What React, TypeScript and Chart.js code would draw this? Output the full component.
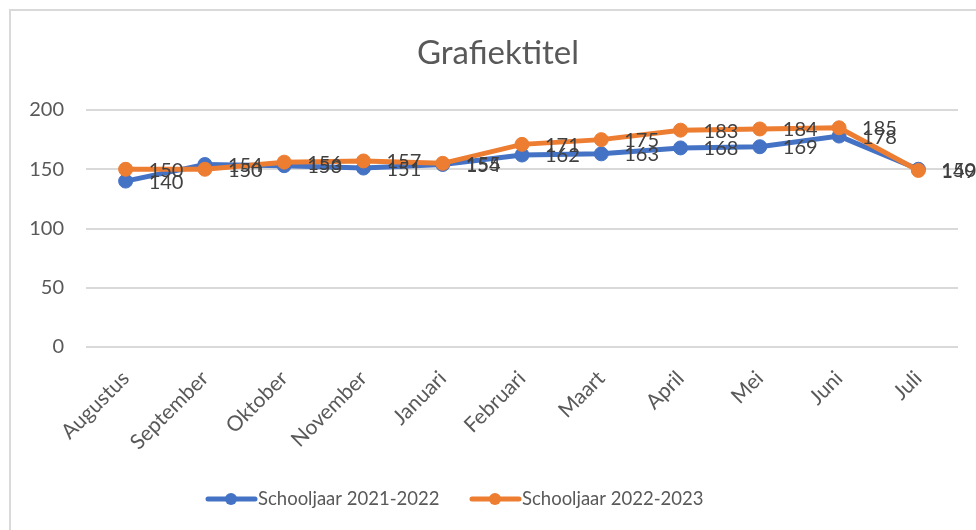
import React, { useEffect, useRef } from "react";
import { Chart, registerables } from "chart.js";

Chart.register(...registerables);

const categories = ["Augustus", "September", "Oktober", "November", "Januari", "Februari", "Maart", "April", "Mei", "Juni", "Juli"];
const series2122 = [140, 154, 153, 151, 154, 162, 163, 168, 169, 178, 150];
const series2223 = [150, 150, 156, 157, 155, 171, 175, 183, 184, 185, 149];
const seriesNames = ["Schooljaar 2021-2022", "Schooljaar 2022-2023"];
const titleText = "Grafiektitel";

const BLUE = "#4472C4";
const ORANGE = "#ED7D31";
const TEXT = "#595959";
const GRID = "#D9D9D9";
const FONT = "Lato, 'Liberation Sans', sans-serif";

const titlePlugin = {
  id: "customTitle",
  afterDraw(chart: any) {
    const ctx = chart.ctx;
    ctx.save();
    ctx.font = `33px ${FONT}`;
    ctx.fillStyle = TEXT;
    ctx.textAlign = "center";
    ctx.textBaseline = "alphabetic";
    ctx.fillText(titleText, 498, 64);
    ctx.restore();
  },
};

const dataLabelPlugin = {
  id: "dataLabels",
  afterDatasetsDraw(chart: any) {
    const ctx = chart.ctx;
    ctx.save();
    ctx.font = `20px ${FONT}`;
    ctx.fillStyle = "#404040";
    ctx.textAlign = "left";
    ctx.textBaseline = "middle";
    chart.data.datasets.forEach((ds: any, di: number) => {
      const meta = chart.getDatasetMeta(di);
      meta.data.forEach((pt: any, i: number) => {
        ctx.fillText(String(ds.data[i]), pt.x + 23, pt.y + 1);
      });
    });
    ctx.restore();
  },
};

const legendPlugin = {
  id: "customLegend",
  afterDraw(chart: any) {
    const ctx = chart.ctx;
    const items = [
      { x: 208, color: BLUE, text: seriesNames[0] },
      { x: 472, color: ORANGE, text: seriesNames[1] },
    ];
    const y = 499;
    ctx.save();
    ctx.font = `18.5px ${FONT}`;
    ctx.textBaseline = "middle";
    ctx.textAlign = "left";
    items.forEach((it) => {
      ctx.strokeStyle = it.color;
      ctx.lineWidth = 5;
      ctx.lineCap = "round";
      ctx.beginPath();
      ctx.moveTo(it.x, y);
      ctx.lineTo(it.x + 47, y);
      ctx.stroke();
      ctx.fillStyle = it.color;
      ctx.beginPath();
      ctx.arc(it.x + 23, y, 6, 0, Math.PI * 2);
      ctx.fill();
      ctx.fillStyle = TEXT;
      ctx.fillText(it.text, it.x + 50, y);
    });
    ctx.restore();
  },
};

export default function App() {
  const ref = useRef<HTMLCanvasElement | null>(null);
  useEffect(() => {
    if (!ref.current) return;
    const chart = new Chart(ref.current, {
      type: "line",
      data: {
        labels: categories,
        datasets: [
          {
            label: seriesNames[0],
            data: series2122,
            borderColor: BLUE,
            backgroundColor: BLUE,
            pointBackgroundColor: BLUE,
            pointBorderColor: BLUE,
            borderWidth: 5,
            pointRadius: 7,
            pointBorderWidth: 1,
            tension: 0,
            order: 1,
          },
          {
            label: seriesNames[1],
            data: series2223,
            borderColor: ORANGE,
            backgroundColor: ORANGE,
            pointBackgroundColor: ORANGE,
            pointBorderColor: ORANGE,
            borderWidth: 5,
            pointRadius: 7,
            pointBorderWidth: 1,
            tension: 0,
            order: 0,
          },
        ],
      },
      options: {
        responsive: false,
        animation: false,
        layout: { padding: { left: 10, right: 18, top: 110, bottom: 0 } },
        plugins: {
          legend: { display: false },
          tooltip: { enabled: false },
          title: { display: false },
        },
        scales: {
          x: {
            offset: true,
            grid: { display: false, drawTicks: false },
            border: { display: false },
            ticks: {
              color: TEXT,
              font: { family: FONT, size: 21 },
              maxRotation: 45,
              minRotation: 45,
              padding: 19,
              autoSkip: false,
            },
            afterFit: (s: any) => {
              s.height = 183;
            },
          },
          y: {
            min: 0,
            max: 200,
            grid: { color: GRID, lineWidth: 2, drawTicks: false },
            border: { display: false },
            ticks: {
              stepSize: 50,
              color: TEXT,
              font: { family: FONT, size: 20 },
              padding: 22,
            },
            afterFit: (s: any) => {
              s.width = 76;
            },
          },
        },
      },
      plugins: [titlePlugin, dataLabelPlugin, legendPlugin],
    });
    return () => chart.destroy();
  }, []);

  return (
    <div style={{ position: "absolute", left: 0, top: 0, width: 976, height: 530, overflow: "hidden", background: "#fff" }}>
      <div
        style={{
          position: "absolute",
          left: 9,
          top: 9,
          width: 1000,
          height: 600,
          border: "2px solid #D9D9D9",
        }}
      />
      <canvas ref={ref} width={976} height={530} style={{ position: "absolute", left: 0, top: 0 }} />
    </div>
  );
}
